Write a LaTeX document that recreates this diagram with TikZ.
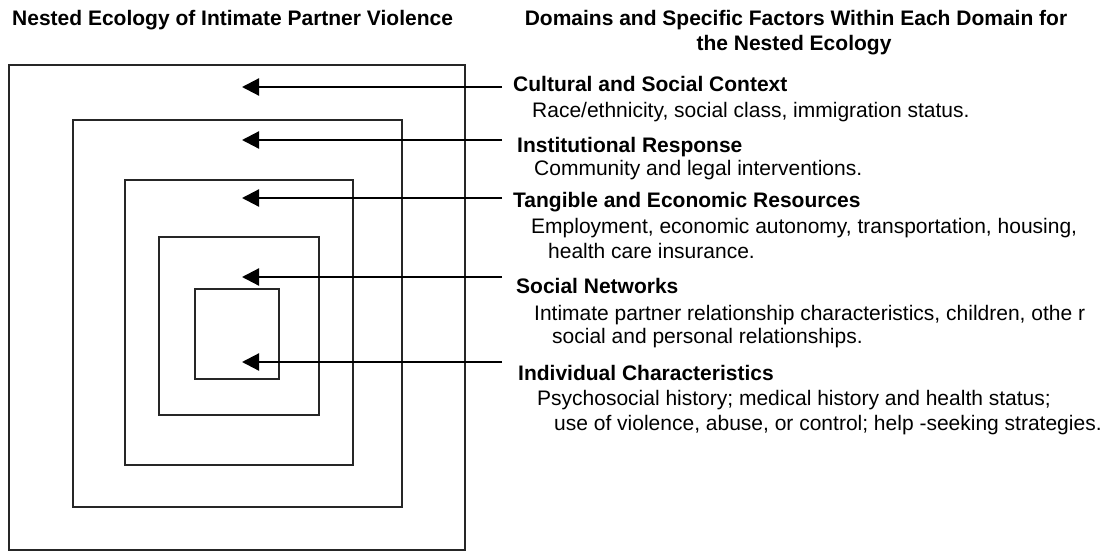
\documentclass[tikz,border=0pt]{standalone}
\usepackage{fontspec}
\setmainfont{Liberation Sans}
\usetikzlibrary{arrows.meta}
\tikzset{
  ring/.style={draw=black!85, line width=1.3pt},
  arr/.style={draw=black, line width=2.2pt, -{Triangle[length=17pt,width=17pt]}},
  head/.style={anchor=base west, inner sep=0pt, font=\fontsize{21}{25}\selectfont\bfseries},
  body/.style={anchor=base west, inner sep=0pt, font=\fontsize{21}{25}\selectfont},
  ttl/.style={inner sep=0pt, font=\fontsize{21}{25}\selectfont\bfseries},
}
\begin{document}
\begin{tikzpicture}[x=1pt, y=-1pt]
\useasboundingbox (0,0) rectangle (1111,552);
% titles
\node[ttl, anchor=base west] (tl) at (12,25) {Nested Ecology of Intimate Partner Violence};
\node[ttl, anchor=base] (tr1) at (796,25) {Domains and Specific Factors Within Each Domain for};
\node[ttl, anchor=base] (tr2) at (794,50) {the Nested Ecology};
% nested squares
\draw[ring] (9,65) rectangle (465,550);
\draw[ring] (73,120) rectangle (402,507);
\draw[ring] (125,180) rectangle (353,465);
\draw[ring] (159,237) rectangle (319,415);
\draw[ring] (195,289) rectangle (279,379);
% coordinates for arrows
\coordinate (tail1) at (502,87);  \coordinate (tip1) at (242,87);
\coordinate (tail2) at (502,140); \coordinate (tip2) at (242,140);
\coordinate (tail3) at (502,198); \coordinate (tip3) at (242,198);
\coordinate (tail4) at (502,277); \coordinate (tip4) at (242,277);
\coordinate (tail5) at (502,362); \coordinate (tip5) at (242,362);
\draw[arr] (tail1) -- (tip1);
\draw[arr] (tail2) -- (tip2);
\draw[arr] (tail3) -- (tip3);
\draw[arr] (tail4) -- (tip4);
\draw[arr] (tail5) -- (tip5);
% domain texts
\node[head] (h1) at (513,91) {Cultural and Social Context};
\node[body] (b1a) at (532,117) {Race/ethnicity, social class, immigration status.};
\node[head] (h2) at (517,152) {Institutional Response};
\node[body] (b2a) at (534,175) {Community and legal interventions.};
\node[head] (h3) at (513,207) {Tangible and Economic Resources};
\node[body] (b3a) at (531,233) {Employment, economic autonomy, transportation, housing,};
\node[body] (b3b) at (548,258) {health care insurance.};
\node[head] (h4) at (516,293) {Social Networks};
\node[body] (b4a) at (534,320) {Intimate partner relationship characteristics, children, othe r};
\node[body] (b4b) at (552,343) {social and personal relationships.};
\node[head] (h5) at (518,380) {Individual Characteristics};
\node[body] (b5a) at (537,405) {Psychosocial history; medical history and health status;};
\node[body] (b5b) at (554,430) {use of violence, abuse, or control; help -seeking strategies.};
\end{tikzpicture}
\end{document}
